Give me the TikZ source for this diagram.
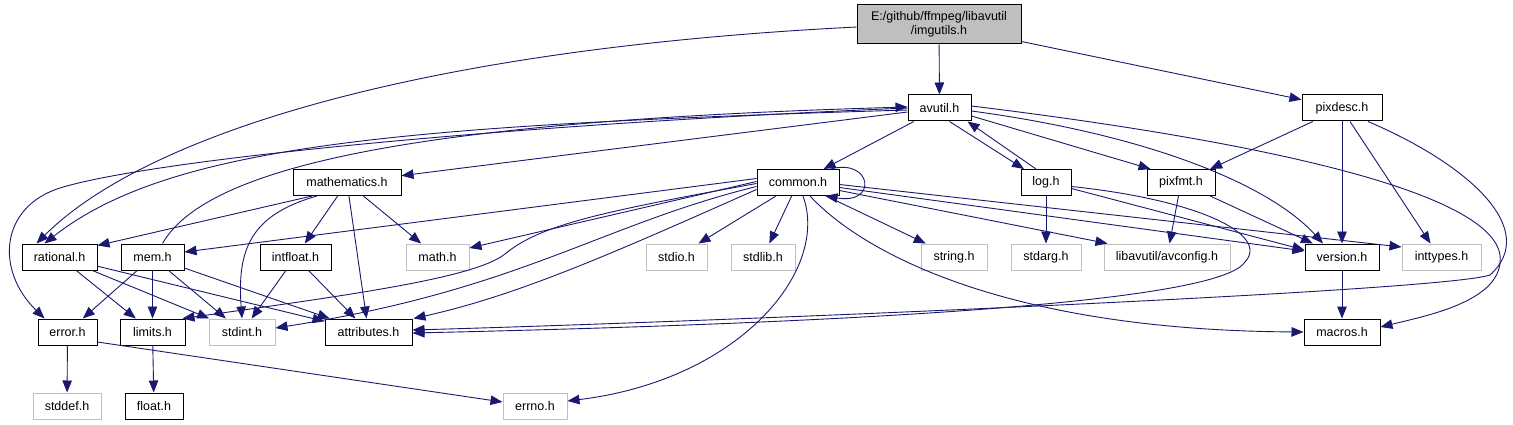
\documentclass[tikz,border=0pt]{standalone}
\usepackage{fontspec}
\setmainfont{Liberation Sans}
\usetikzlibrary{arrows.meta}
\definecolor{edge}{HTML}{191970}
\definecolor{sysline}{HTML}{BFBFBF}
\definecolor{rootfill}{HTML}{BFBFBF}
\tikzset{
  hdr/.style={
    draw=black, fill=white, line width=1pt,
    inner sep=0pt, minimum height=26pt,
    font=\fontsize{12.5}{14.5}\selectfont
  },
  syshdr/.style={hdr, draw=sysline},
  rootbox/.style={hdr, fill=rootfill, minimum height=39pt, align=center},
  dep/.style={-{Triangle[length=12pt,width=9.5pt]}, draw=edge, line width=0.9pt}
}
\begin{document}
\begin{tikzpicture}[x=1pt,y=-1pt]
    \fill[white] (0,0) rectangle (1513,425);
    \useasboundingbox (0,0) rectangle (1513,425);

    \node[rootbox, minimum width=164pt] (imgutils) at (939,24.5) {E:/github/ffmpeg/libavutil\\/imgutils.h};

    \node[hdr, minimum width=63pt] (avutil) at (939.5,108) {avutil.h};
    \node[hdr, minimum width=80pt] (pixdesc) at (1342,108) {pixdesc.h};

    \node[hdr, minimum width=108pt] (mathematics) at (347,182.5) {mathematics.h};
    \node[hdr, minimum width=82pt] (common) at (798,182.5) {common.h};
    \node[hdr, minimum width=50pt] (log) at (1046,182.5) {log.h};
    \node[hdr, minimum width=68pt] (pixfmt) at (1181,182.5) {pixfmt.h};

    \node[hdr, minimum width=75pt] (rational) at (59.5,257) {rational.h};
    \node[hdr, minimum width=63pt] (mem) at (152.5,257) {mem.h};
    \node[hdr, minimum width=71pt] (intfloat) at (295.5,257) {intfloat.h};
    \node[syshdr, minimum width=63pt] (mathh) at (437.5,257) {math.h};
    \node[syshdr, minimum width=61pt] (stdio) at (676.5,257) {stdio.h};
    \node[syshdr, minimum width=64pt] (stdlib) at (763,257) {stdlib.h};
    \node[syshdr, minimum width=66pt] (string) at (954,257) {string.h};
    \node[syshdr, minimum width=70pt] (stdarg) at (1046,257) {stdarg.h};
    \node[syshdr, minimum width=126pt] (avconfig) at (1167,257) {libavutil/avconfig.h};
    \node[hdr, minimum width=74pt] (version) at (1342,257) {version.h};
    \node[syshdr, minimum width=79pt] (inttypes) at (1441.5,257) {inttypes.h};

    \node[hdr, minimum width=59pt] (error) at (67.5,332) {error.h};
    \node[hdr, minimum width=65pt] (limits) at (152.5,332) {limits.h};
    \node[syshdr, minimum width=66pt] (stdint) at (242,332) {stdint.h};
    \node[hdr, minimum width=87pt] (attributes) at (368.5,332) {attributes.h};
    \node[hdr, minimum width=76pt] (macros) at (1342,332) {macros.h};

    \node[syshdr, minimum width=68pt] (stddef) at (67,406) {stddef.h};
    \node[hdr, minimum width=58pt] (float) at (154,406) {float.h};
    \node[syshdr, minimum width=64pt] (errno) at (535,406) {errno.h};

    % imgutils.h
    \draw[dep] (imgutils) -- (avutil);
    \draw[dep] (imgutils) -- (pixdesc);
    \draw[dep] ([yshift=-2.5pt]imgutils.west) .. controls (400,50) and (140,140) .. ([xshift=15pt]rational.north west);

    % avutil.h
    \draw[dep] (avutil) -- (common);
    \draw[dep] (avutil) -- (mathematics);
    \draw[dep] ([yshift=-2pt]avutil.west) .. controls (400,125) and (170,145) .. ([xshift=23pt]rational.north west);
    \draw[dep] (avutil.west) .. controls (500,125) and (150,160) .. (60,188) .. controls (0,207) and (-5,270) .. ([xshift=7pt]error.north west);
    \draw[dep] ([xshift=10pt]avutil.south) -- ([xshift=-22pt]log.north);
    \draw[dep] ([yshift=-8pt]avutil.east) -- ([xshift=4pt]pixfmt.north west);
    \draw[dep] ([yshift=-3pt]avutil.east) .. controls (1150,135) and (1270,185) .. ([xshift=-19pt]version.north);
    \draw[dep] ([yshift=2pt]avutil.east) .. controls (1250,140) and (1490,190) .. (1500,255) .. controls (1505,300) and (1430,315) .. ([yshift=5pt]macros.east);

    % pixdesc.h
    \draw[dep] (pixdesc) -- (pixfmt);
    \draw[dep] (pixdesc) -- (version);
    \draw[dep] ([xshift=8pt]pixdesc.south) -- ([xshift=-11pt]inttypes.north);
    \draw[dep] ([xshift=26pt]pixdesc.south) .. controls (1470,165) and (1540,230) .. (1490,275) .. controls (1440,292) and (700,322) .. ([yshift=2pt]attributes.east);

    % log.h, pixfmt.h, version.h
    \draw[dep] ([xshift=-10pt]log.north) -- ([xshift=28pt]avutil.south);
    \draw[dep] (log) -- (stdarg);
    \draw[dep] ([yshift=-6pt]log.east) -- ([yshift=7pt]version.west);
    \draw[dep] ([yshift=-4pt]log.east) .. controls (1200,200) and (1270,235) .. (1245,262) .. controls (1220,300) and (900,322) .. ([yshift=-1pt]attributes.east);
    \draw[dep] (pixfmt) -- (avconfig);
    \draw[dep] (pixfmt) -- (version);
    \draw[dep] (version) -- (macros);

    % common.h
    \draw[dep] ([xshift=-9pt]common.north east) .. controls (872,158) and (878,205) .. ([xshift=-14pt]common.south east);
    \draw[dep] (common) -- (stdio);
    \draw[dep] (common) -- (stdlib);
    \draw[dep] (common) -- (string);
    \draw[dep] ([yshift=-8pt]common.east) -- ([xshift=4pt]avconfig.north west);
    \draw[dep] ([yshift=-5pt]common.east) -- ([yshift=6pt]version.west);
    \draw[dep] ([yshift=-2pt]common.east) -- ([yshift=10pt]inttypes.west);
    \draw[dep] ([yshift=4pt]common.west) -- ([yshift=5pt]mem.east);
    \draw[dep] ([yshift=1pt]common.west) -- ([yshift=9pt]mathh.east);
    \draw[dep] ([yshift=-1pt]common.west) .. controls (600,212) and (540,225) .. (505,254) .. controls (475,278) and (350,295) .. ([xshift=-3pt]limits.north east);
    \draw[dep] ([yshift=-4pt]common.west) .. controls (600,225) and (520,290) .. ([yshift=4pt]stdint.east);
    \draw[dep] ([yshift=-7pt]common.west) .. controls (620,250) and (520,295) .. ([xshift=1pt]attributes.north east);
    \draw[dep] ([xshift=5pt]common.south) .. controls (830,270) and (740,380) .. ([yshift=5pt]errno.east);
    \draw[dep] ([xshift=12pt]common.south) .. controls (860,250) and (1000,330) .. (macros.west);

    % mathematics.h
    \draw[dep] ([xshift=-35pt]mathematics.south) -- ([yshift=-2pt]rational.north east);
    \draw[dep] ([xshift=-30pt]mathematics.south) .. controls (250,215) and (237,250) .. (stdint.north);
    \draw[dep] (mathematics) -- (intfloat);
    \draw[dep] (mathematics) -- (attributes);
    \draw[dep] (mathematics) -- (mathh);

    % rational.h, mem.h, intfloat.h
    \draw[dep] (rational) -- (limits);
    \draw[dep] (rational) -- (stdint);
    \draw[dep] (rational) -- (attributes);
    \draw[dep] ([xshift=10pt]mem.north) .. controls (210,160) and (450,120) .. ([yshift=1pt]avutil.west);
    \draw[dep] (mem) -- (error);
    \draw[dep] (mem) -- (limits);
    \draw[dep] (mem) -- (stdint);
    \draw[dep] (mem) -- (attributes);
    \draw[dep] (intfloat) -- (stdint);
    \draw[dep] (intfloat) -- (attributes);

    % error.h, limits.h
    \draw[dep] (error) -- (stddef);
    \draw[dep] ([yshift=-10pt]error.east) -- ([yshift=4pt]errno.west);
    \draw[dep] (limits) -- (float);
  \end{tikzpicture}
\end{document}
